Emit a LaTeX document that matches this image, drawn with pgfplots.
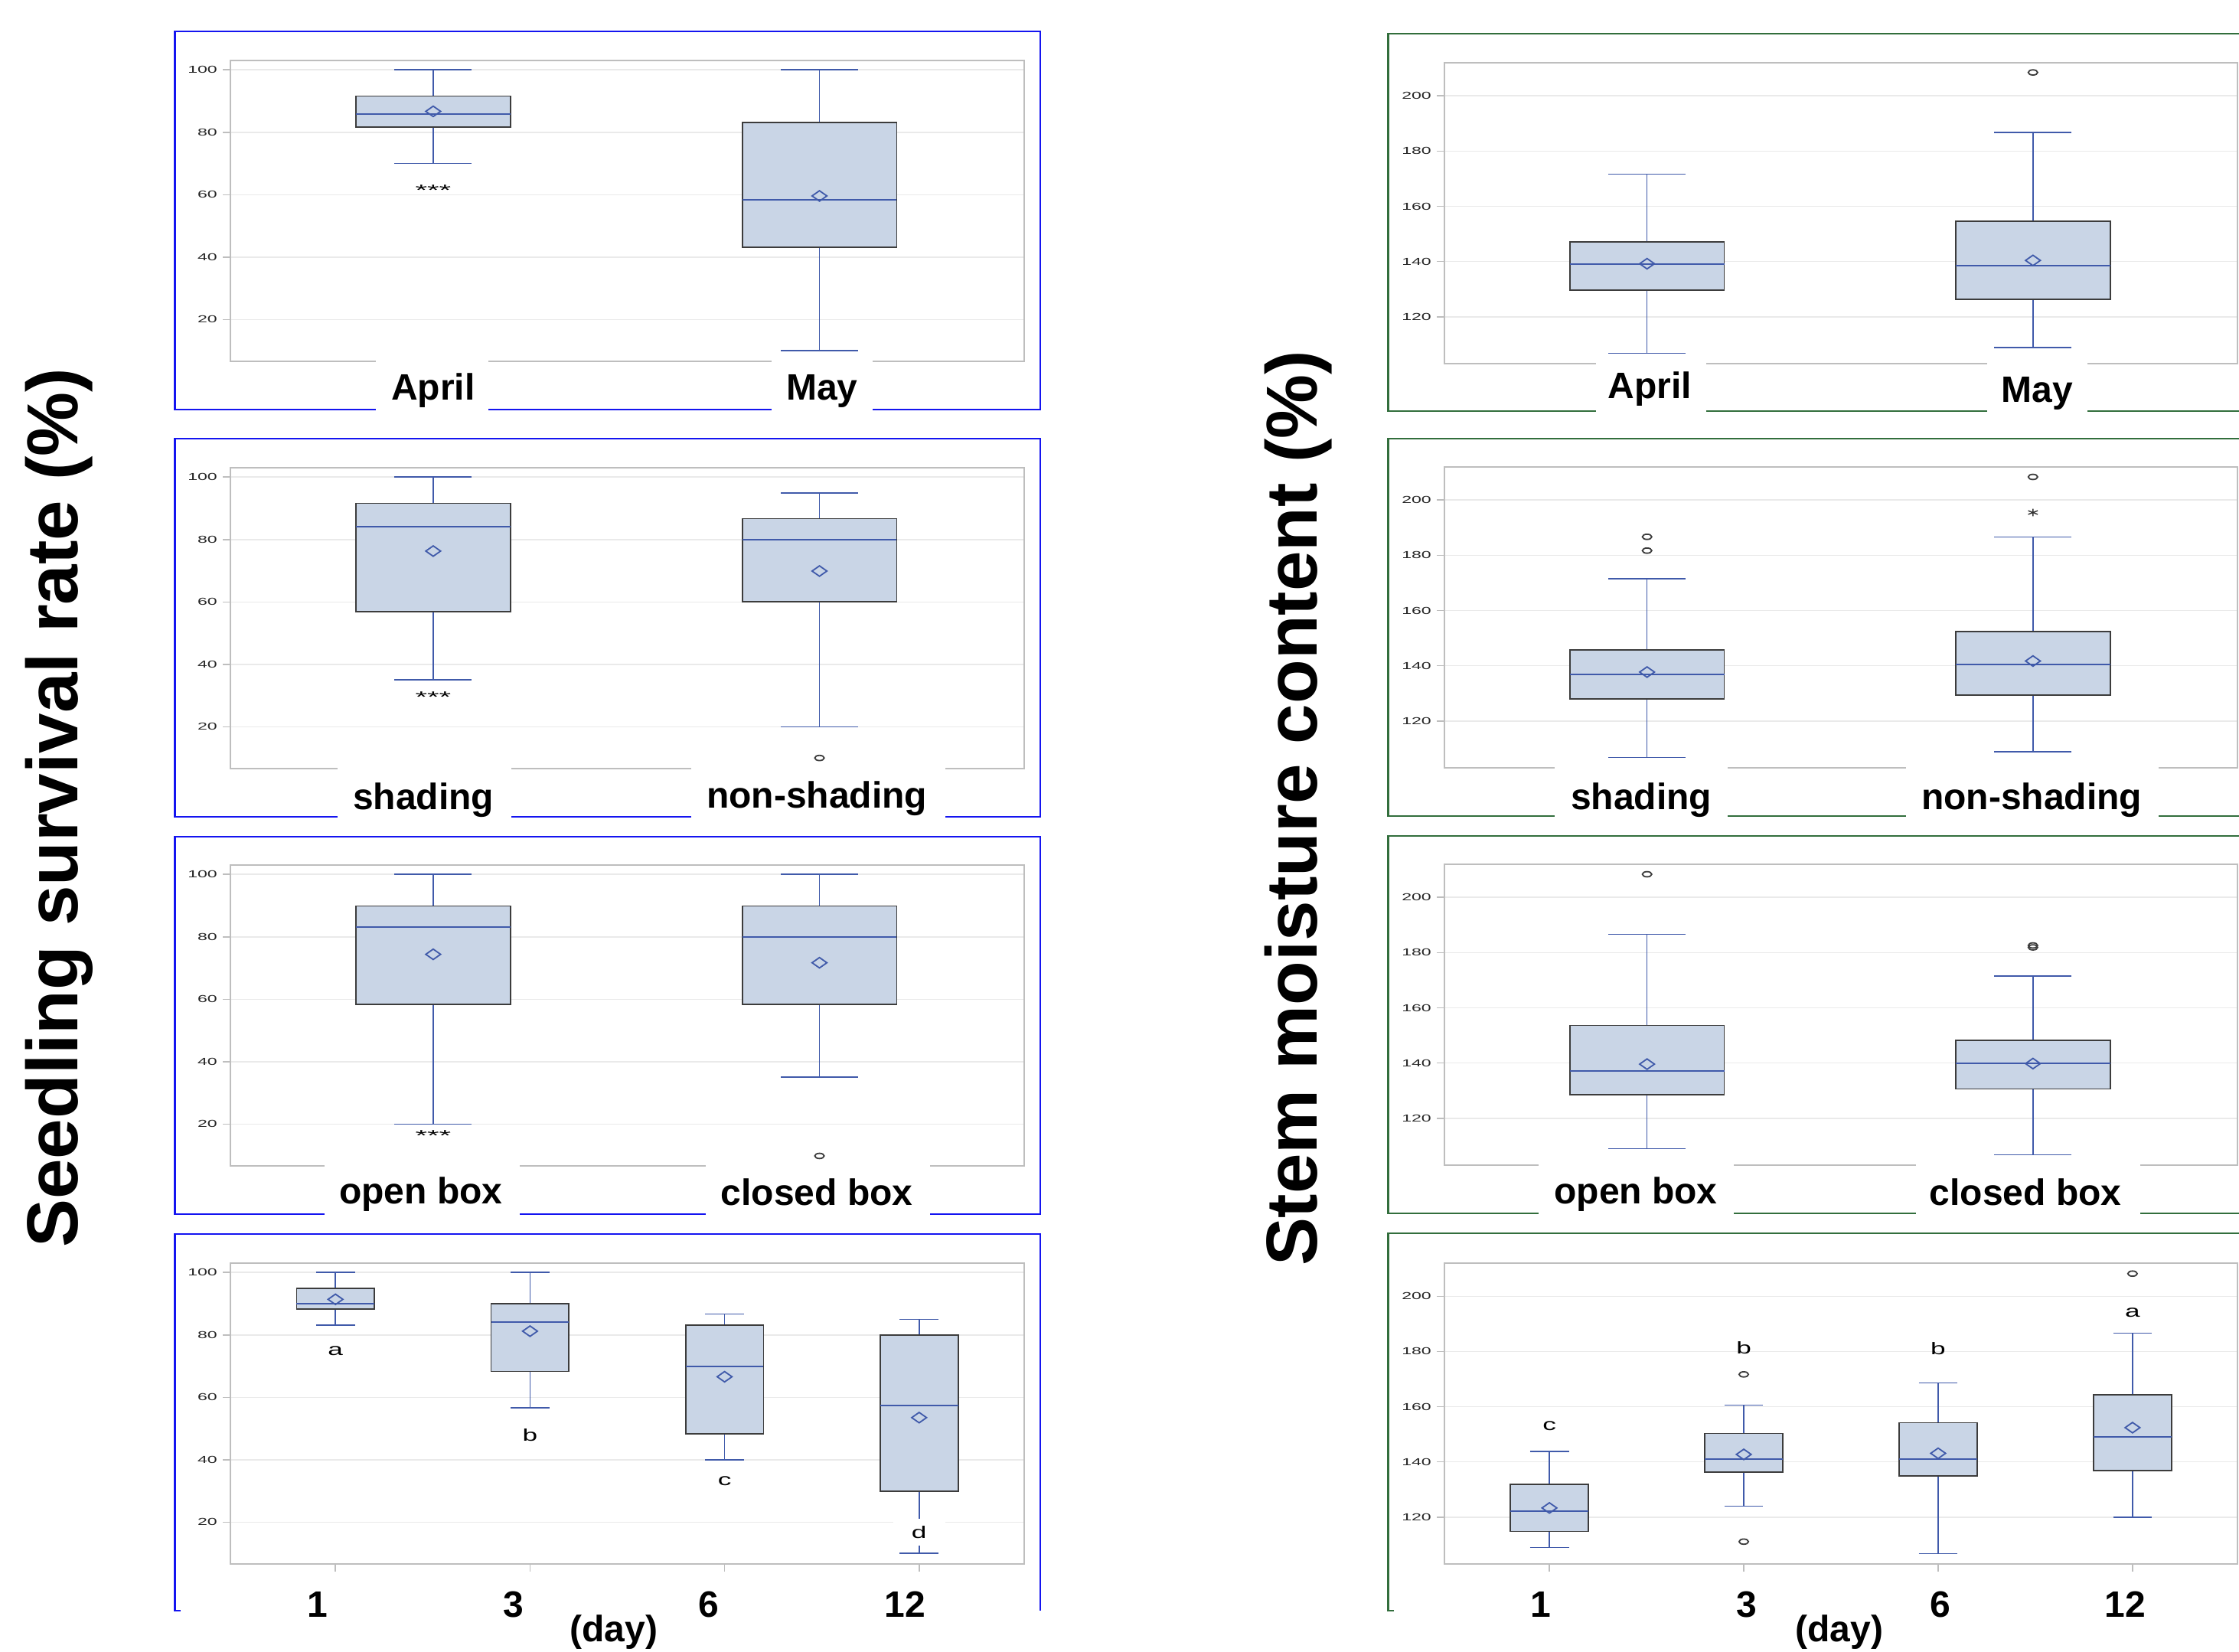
\documentclass[border=0pt]{standalone}
\usepackage{graphicx}
\usepackage{fontspec}
\setmainfont{Liberation Sans}
\usepackage{pgfplots}
\pgfplotsset{compat=1.18}
\usepgfplotslibrary{statistics}
\definecolor{sasblue}{RGB}{64,90,170}
\definecolor{boxfill}{RGB}{201,213,230}
\definecolor{boxedge}{RGB}{60,60,60}
\definecolor{gridc}{RGB}{234,234,234}
\definecolor{axisc}{RGB}{190,190,190}
\definecolor{frameblue}{RGB}{20,20,240}
\definecolor{framegreen}{RGB}{50,110,60}
\pgfplotsset{
 panel/.style={scale only axis, height=98.25pt, anchor=north west,
   axis line style={draw=axisc, line width=0.55pt},
   ymajorgrids, grid style={draw=gridc, line width=0.4pt},
   ytick pos=left, tick align=outside, major tick length=2.5pt,
   tick style={draw=axisc, line width=0.4pt},
   yticklabel style={font=\fontsize{3.3}{4}\selectfont, text=black!85, inner sep=1.6pt},
   yticklabel={\scalebox{1.75}[1]{\pgfmathprintnumber{\tick}}},
   /pgf/number format/assume math mode=true,
   xtick=\empty, clip=false,
   boxplot/draw direction=y,
   boxplot/box extend=0.4,
   boxplot/whisker extend=0.2,
   boxplot/every box/.style={draw=boxedge, fill=boxfill, line width=0.45pt},
   boxplot/every whisker/.style={draw=sasblue, line width=0.4pt},
   boxplot/every median/.style={draw=sasblue, line width=0.5pt},
 },
 leftp/.style={panel, width=259.25pt, xmin=-0.525, xmax=1.53, ymin=6.6, ymax=103, ytick={20,40,60,80,100}},
 rightp/.style={panel, width=259pt, xmin=-0.525, xmax=1.53, ymin=103, ymax=212, ytick={120,140,160,180,200}},
 daysp/.style={xmin=-0.54, xmax=3.54, xtick={0,1,2,3}, xticklabels={,,,}, xtick pos=bottom},
 bpstyle/.style={draw=sasblue, mark=o, mark size=0.85pt, mark options={draw=boxedge, xscale=1.8, line width=0.45pt, fill=none}},
 meanstyle/.style={only marks, mark=diamond, mark size=1.7pt, mark options={draw=sasblue, fill=boxfill, xscale=1.9, line width=0.45pt}},
}
\newcommand{\stars}{\fontsize{5}{6}\selectfont\scalebox{2}[1]{***}}
\newcommand{\lett}[1]{\fontsize{5.5}{6}\selectfont\scalebox{1.6}[1]{#1}}
\begin{document}
\begin{tikzpicture}
\useasboundingbox (0,0) rectangle (731.25pt,-539.25pt);
% frames
\begin{scope}[x=0.25pt,y=-0.25pt]
\draw[frameblue, line width=0.55pt] (228.5,41) rectangle (1359,535);
\draw[frameblue, line width=0.55pt] (228.5,573) rectangle (1359,1067);
\draw[frameblue, line width=0.55pt] (228.5,1093) rectangle (1359,1586);
\draw[frameblue, line width=0.55pt] (236,2104) -- (228.5,2104) -- (228.5,1612) -- (1359,1612) -- (1359,2104);
\draw[framegreen, line width=0.55pt] (2940,44) -- (1813.5,44) -- (1813.5,537) -- (2940,537);
\draw[framegreen, line width=0.55pt] (2940,573) -- (1813.5,573) -- (1813.5,1066) -- (2940,1066);
\draw[framegreen, line width=0.55pt] (2940,1092) -- (1813.5,1092) -- (1813.5,1585) -- (2940,1585);
\draw[framegreen, line width=0.55pt] (1821,2104) -- (1813.5,2104) -- (1813.5,1611) -- (2940,1611);
\end{scope}

% ---------- left column ----------
\begin{axis}[leftp, at={(75.25pt,-19.75pt)}]
\addplot[bpstyle, boxplot prepared={draw position=0, lower whisker=70.0, lower quartile=81.6, median=85.8, upper quartile=91.6, upper whisker=100}] coordinates {};
\addplot[bpstyle, boxplot prepared={draw position=1, lower whisker=10.1, lower quartile=43.2, median=58.4, upper quartile=83.2, upper whisker=100}] coordinates {};
\addplot[meanstyle] coordinates {(0,86.7) (1,59.6)};
\node at (axis cs:0,61.5) {\stars};
\end{axis}

\begin{axis}[leftp, at={(75.25pt,-152.75pt)}]
\addplot[bpstyle, boxplot prepared={draw position=0, lower whisker=35.0, lower quartile=56.8, median=84.2, upper quartile=91.6, upper whisker=100}] coordinates {};
\addplot[bpstyle, boxplot prepared={draw position=1, lower whisker=20, lower quartile=60.0, median=79.9, upper quartile=86.7, upper whisker=94.9}] table[row sep=\\, y index=0] {data\\ 10.0\\};
\addplot[meanstyle] coordinates {(0,76.3) (1,69.9)};
\node at (axis cs:0,29.5) {\stars};
\end{axis}

\begin{axis}[leftp, at={(75.25pt,-282.5pt)}]
\addplot[bpstyle, boxplot prepared={draw position=0, lower whisker=20, lower quartile=58.3, median=83.2, upper quartile=89.9, upper whisker=100}] coordinates {};
\addplot[bpstyle, boxplot prepared={draw position=1, lower whisker=35, lower quartile=58.3, median=79.9, upper quartile=89.9, upper whisker=100}] table[row sep=\\, y index=0] {data\\ 9.8\\};
\addplot[meanstyle] coordinates {(0,74.4) (1,71.7)};
\node at (axis cs:0,16.3) {\stars};
\end{axis}

\begin{axis}[leftp, daysp, at={(75.25pt,-412.5pt)}]
\addplot[bpstyle, boxplot prepared={draw position=0, lower whisker=83.2, lower quartile=88.3, median=90, upper quartile=94.9, upper whisker=100}] coordinates {};
\addplot[bpstyle, boxplot prepared={draw position=1, lower whisker=56.7, lower quartile=68.3, median=84.2, upper quartile=90, upper whisker=100}] coordinates {};
\addplot[bpstyle, boxplot prepared={draw position=2, lower whisker=40, lower quartile=48.3, median=70, upper quartile=83.1, upper whisker=86.7}] coordinates {};
\addplot[bpstyle, boxplot prepared={draw position=3, lower whisker=10, lower quartile=30, median=57.5, upper quartile=79.9, upper whisker=85}] coordinates {};
\addplot[meanstyle] coordinates {(0,91.4) (1,81.2) (2,66.6) (3,53.5)};
\node at (axis cs:0,74.8) {\lett{a}};
\node at (axis cs:1,47.9) {\lett{b}};
\node at (axis cs:2,33.1) {\lett{c}};
\node[fill=white, inner xsep=6pt, inner ysep=2.3pt] at (axis cs:3,16.8) {\lett{d}};
\end{axis}

% ---------- right column ----------
\begin{axis}[rightp, at={(471.75pt,-20.5pt)}]
\addplot[bpstyle, boxplot prepared={draw position=0, lower whisker=106.8, lower quartile=129.6, median=139.2, upper quartile=147.0, upper whisker=171.7}] coordinates {};
\addplot[bpstyle, boxplot prepared={draw position=1, lower whisker=108.9, lower quartile=126.2, median=138.5, upper quartile=154.7, upper whisker=186.7}] table[row sep=\\, y index=0] {data\\ 208.5\\};
\addplot[meanstyle] coordinates {(0,139.2) (1,140.4)};
\end{axis}

\begin{axis}[rightp, at={(471.75pt,-152.5pt)}]
\addplot[bpstyle, boxplot prepared={draw position=0, lower whisker=106.7, lower quartile=127.9, median=136.8, upper quartile=145.8, upper whisker=171.5}] table[row sep=\\, y index=0] {data\\ 186.7\\ 181.7\\};
\addplot[bpstyle, boxplot prepared={draw position=1, lower whisker=108.9, lower quartile=129.4, median=140.5, upper quartile=152.4, upper whisker=186.6}] table[row sep=\\, y index=0] {data\\ 208.4\\};
\addplot[only marks, mark=asterisk, mark size=1.2pt, mark options={draw=black!80, xscale=1.5, line width=0.35pt}] coordinates {(1,195.5)};
\addplot[meanstyle] coordinates {(0,137.7) (1,141.7)};
\end{axis}

\begin{axis}[rightp, at={(471.75pt,-282.25pt)}]
\addplot[bpstyle, boxplot prepared={draw position=0, lower whisker=109.0, lower quartile=128.5, median=137.0, upper quartile=153.6, upper whisker=186.6}] table[row sep=\\, y index=0] {data\\ 208.4\\};
\addplot[bpstyle, boxplot prepared={draw position=1, lower whisker=106.7, lower quartile=130.6, median=139.8, upper quartile=148.2, upper whisker=171.5}] table[row sep=\\, y index=0] {data\\ 182.6\\ 181.9\\};
\addplot[meanstyle] coordinates {(0,139.6) (1,139.8)};
\end{axis}

\begin{axis}[rightp, daysp, at={(471.75pt,-412.5pt)}]
\addplot[bpstyle, boxplot prepared={draw position=0, lower whisker=109.0, lower quartile=114.8, median=122.1, upper quartile=131.9, upper whisker=143.8}] coordinates {};
\addplot[bpstyle, boxplot prepared={draw position=1, lower whisker=123.9, lower quartile=136.2, median=141.1, upper quartile=150.3, upper whisker=160.6}] table[row sep=\\, y index=0] {data\\ 171.7\\ 111.1\\};
\addplot[bpstyle, boxplot prepared={draw position=2, lower whisker=106.8, lower quartile=134.9, median=141.0, upper quartile=154.2, upper whisker=168.6}] coordinates {};
\addplot[bpstyle, boxplot prepared={draw position=3, lower whisker=120, lower quartile=136.8, median=149.1, upper quartile=164.3, upper whisker=186.6}] table[row sep=\\, y index=0] {data\\ 208.2\\};
\addplot[meanstyle] coordinates {(0,123.3) (1,142.7) (2,143.1) (3,152.4)};
\node at (axis cs:0,153.1) {\lett{c}};
\node at (axis cs:1,181.2) {\lett{b}};
\node at (axis cs:2,181.0) {\lett{b}};
\node at (axis cs:3,194.0) {\lett{a}};
\end{axis}

% ---------- label patches and texts ----------
\begin{scope}[x=0.25pt,y=-0.25pt, lab/.style={anchor=base, font=\fontsize{12}{14}\selectfont\bfseries, inner sep=0pt}]
\fill[white] (491,467) rectangle (638,540);
\fill[white] (1008,467) rectangle (1140,540);
\fill[white] (441,999) rectangle (668,1072);
\fill[white] (903,999) rectangle (1235,1072);
\fill[white] (424,1518) rectangle (679,1591);
\fill[white] (922,1518) rectangle (1215,1591);
\fill[white] (2085,469) rectangle (2229,542);
\fill[white] (2596,469) rectangle (2727,542);
\fill[white] (2031,998) rectangle (2257,1071);
\fill[white] (2490,998) rectangle (2820,1071);
\fill[white] (2010,1518) rectangle (2265,1590);
\fill[white] (2503,1518) rectangle (2796,1590);
\node[lab] at (566,522) {April};
\node[lab] at (1074,522) {May};
\node[lab] at (553,1057) {shading};
\node[lab] at (1067,1055) {non-shading};
\node[lab] at (550,1572) {open box};
\node[lab] at (1067,1574) {closed box};
\node[lab] at (415,2112) {1};
\node[lab] at (671,2112) {3};
\node[lab] at (926,2112) {6};
\node[lab] at (1182,2112) {12};
\node[lab] at (802,2144) {(day)};
\node[lab] at (2155,520) {April};
\node[lab] at (2661,525) {May};
\node[lab] at (2144,1057) {shading};
\node[lab] at (2654,1057) {non-shading};
\node[lab] at (2137,1572) {open box};
\node[lab] at (2646,1574) {closed box};
\node[lab] at (2013,2112) {1};
\node[lab] at (2282,2112) {3};
\node[lab] at (2535,2112) {6};
\node[lab] at (2776,2112) {12};
\node[lab] at (2403,2144) {(day)};
\node[rotate=90, font=\fontsize{23.6}{28}\selectfont\bfseries, inner sep=0pt] at (77,1055) {Seedling survival rate (\%)};
\node[rotate=90, font=\fontsize{23.6}{28}\selectfont\bfseries, inner sep=0pt] at (1696,1056) {Stem moisture content (\%)};
\end{scope}
\end{tikzpicture}
\end{document}
